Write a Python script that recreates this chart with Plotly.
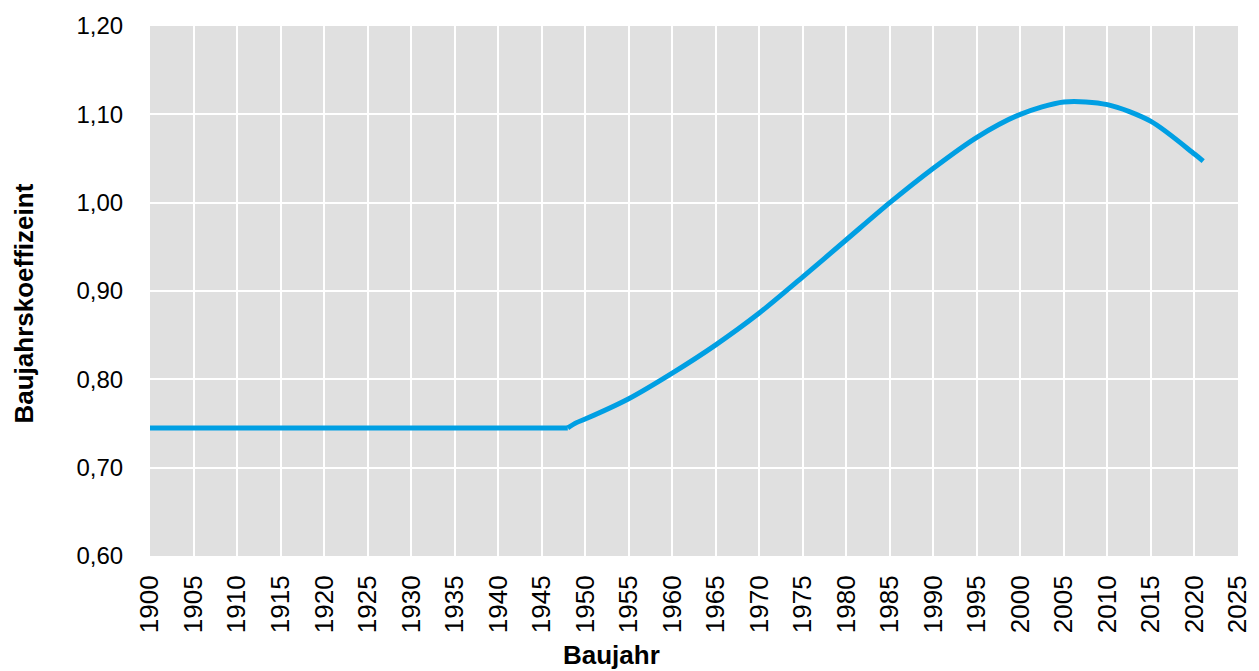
import plotly.graph_objects as go

# Data
flat_years = [1900, 1948]
flat_values = [0.745, 0.745]

curve_years = [1948, 1949, 1950, 1955, 1960, 1965, 1970, 1975, 1980, 1985,
               1990, 1995, 2000, 2005, 2010, 2015, 2020, 2021]
curve_values = [0.745, 0.751, 0.755, 0.778, 0.807, 0.839, 0.875, 0.916, 0.958, 1.000,
                1.039, 1.074, 1.100, 1.114, 1.111, 1.092, 1.055, 1.047]

x_ticks = list(range(1900, 2026, 5))
y_ticks = [0.6, 0.7, 0.8, 0.9, 1.0, 1.1, 1.2]
y_tick_labels = ["0,60", "0,70", "0,80", "0,90", "1,00", "1,10", "1,20"]

x_title = "Baujahr"
y_title = "Baujahrskoeffizeint"

LINE_COLOR = "#009FE3"
FONT = "Liberation Sans, Arial, sans-serif"

fig = go.Figure()
fig.add_trace(go.Scatter(x=flat_years, y=flat_values, mode="lines",
                         line=dict(color=LINE_COLOR, width=5, shape="linear"),
                         showlegend=False, hoverinfo="skip"))
fig.add_trace(go.Scatter(x=curve_years, y=curve_values, mode="lines",
                         line=dict(color=LINE_COLOR, width=5, shape="spline", smoothing=0.8),
                         showlegend=False))

fig.update_layout(
    width=1251, height=663,
    margin=dict(l=142, r=21, t=18, b=115),
    paper_bgcolor="white",
    plot_bgcolor="#E0E0E0",
    font=dict(family=FONT, size=24, color="black"),
    xaxis=dict(
        range=[1900, 2025],
        tickmode="array", tickvals=x_ticks, ticktext=[str(v) for v in x_ticks],
        tickangle=-90,
        showgrid=True, gridcolor="white", gridwidth=1.8,
        zeroline=False, showline=False,
        ticks="outside", ticklen=8, tickcolor="rgba(0,0,0,0)",
        tickfont=dict(size=26),
        automargin=False,
    ),
    yaxis=dict(
        range=[0.6, 1.2],
        tickmode="array", tickvals=y_ticks, ticktext=y_tick_labels,
        showgrid=True, gridcolor="white", gridwidth=1.8,
        zeroline=False, showline=False,
        ticks="outside", ticklen=21, tickcolor="rgba(0,0,0,0)",
        tickfont=dict(size=24),
        automargin=False,
    ),
    annotations=[
        dict(text="<b>" + x_title + "</b>", xref="paper", yref="paper",
             x=0.4242, y=-0.1868, xanchor="center", yanchor="middle",
             showarrow=False, font=dict(size=26)),
        dict(text="<b>" + y_title + "</b>", xref="paper", yref="paper",
             x=-0.1167, y=0.4764, xanchor="center", yanchor="middle",
             textangle=-90, showarrow=False, font=dict(size=26)),
    ],
)

fig.write_html("out.html")
